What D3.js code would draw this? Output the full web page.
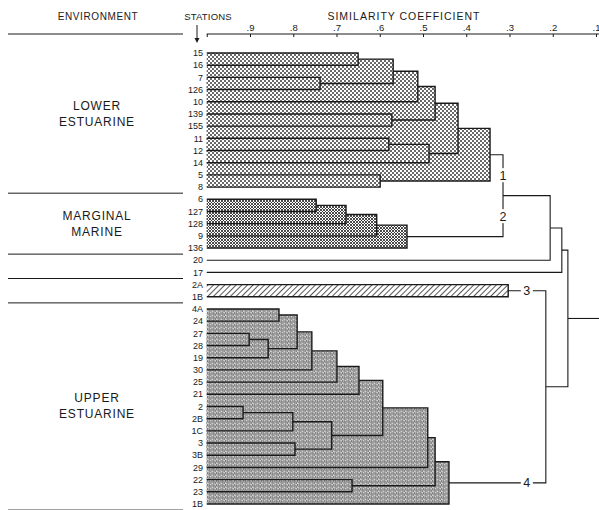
<!DOCTYPE html>
<html>
<head>
<meta charset="utf-8">
<script src="https://cdn.jsdelivr.net/npm/d3@7"></script>
<style>
body{margin:0;background:#fff}
text{font-family:"Liberation Sans",Arial,sans-serif;fill:#1a1a1a}
</style>
</head>
<body>
<script>
// station order, top to bottom
var stations=["15","16","7","126","10","139","155","11","12","14","5","8",
  "6","127","128","9","136","20","17","2A","1B",
  "4A","24","27","28","19","30","25","21","2","2B","1C","3","3B","29","22","23","1B"]

// [cluster name, upper member, lower member, similarity]; numbers are station rows
var merges=[
  ["L1",0,1,0.650],["L2",2,3,0.738],["L3","L1","L2",0.569],["L4","L3",4,0.512],
  ["L5",5,6,0.572],["L6","L4","L5",0.472],["L7",7,8,0.579],["L8","L7",9,0.486],
  ["L9","L6","L8",0.419],["L10",10,11,0.599],["G1","L9","L10",0.345],
  ["M1",12,13,0.747],["M2","M1",14,0.678],["M3","M2",15,0.607],["G2","M3",16,0.537],
  ["R1","G1","G2",0.315],["R2","R1",17,0.206],["R3","R2",18,0.179],
  ["G3",19,20,0.303],
  ["U1",21,22,0.833],["U2",23,24,0.902],["U3","U2",25,0.858],["U4","U1","U3",0.791],
  ["U5","U4",26,0.757],["U6","U5",27,0.699],["U7","U6",28,0.648],
  ["U8",29,30,0.916],["U9","U8",31,0.801],["U10",32,33,0.796],["U11","U9","U10",0.711],
  ["U12","U7","U11",0.593],["U13","U12",34,0.489],["U14",35,36,0.664],
  ["U15","U13","U14",0.472],["G4","U15",37,0.440],
  ["R4","G3","G4",0.216],["ROOT","R3","R4",0.165]
]

var groupNodes=["G1","G2","G3","G4"]
var groupLabels=["1","2","3","4"]

var environments=[["LOWER","ESTUARINE"],["MARGINAL","MARINE"],["UPPER","ESTUARINE"]]
var envRows=[[0,11],[12,16],[21,37]]
var envBreaks=[11,16,18,20,37]   // last row above each divider line

var axisTicks=[1,0.9,0.8,0.7,0.6,0.5,0.4,0.3,0.2,0.1]

var W=599,H=510
var svg=d3.select("body").append("svg").attr("width",W).attr("height",H)

var x=d3.scaleLinear().domain([1,0.1]).range([206.75,596])
var y=d3.scaleLinear().domain([0,stations.length-1]).range([53,504])
var rowGap=(y(1)-y(0))/2

// fill patterns
var defs=svg.append("defs")
var p1=defs.append("pattern").attr("id","dots").attr("patternUnits","userSpaceOnUse").attr("width",4).attr("height",4)
p1.append("rect").attr("width",4).attr("height",4).attr("fill","#fff")
p1.append("circle").attr("cx",1).attr("cy",1).attr("r",0.95).attr("fill","#2a2a2a")
p1.append("circle").attr("cx",3).attr("cy",3).attr("r",0.95).attr("fill","#2a2a2a")

var p2=defs.append("pattern").attr("id","weave").attr("patternUnits","userSpaceOnUse").attr("width",3).attr("height",3)
p2.append("rect").attr("width",3).attr("height",3).attr("fill","#fff")
p2.append("path").attr("d","M0,0L3,3M3,0L0,3").attr("stroke","#2a2a2a").attr("stroke-width",0.85)

var p3=defs.append("pattern").attr("id","hatch").attr("patternUnits","userSpaceOnUse").attr("width",4).attr("height",4)
  .attr("patternTransform","rotate(45)")
p3.append("rect").attr("width",4).attr("height",4).attr("fill","#fff")
p3.append("line").attr("x1",0).attr("y1",0).attr("x2",0).attr("y2",4).attr("stroke","#2a2a2a").attr("stroke-width",1.6)

var p4=defs.append("pattern").attr("id","rings").attr("patternUnits","userSpaceOnUse").attr("width",4.5).attr("height",4)
p4.append("rect").attr("width",4.5).attr("height",4).attr("fill","#cfcfcf")
p4.append("circle").attr("cx",1.2).attr("cy",1).attr("r",1.1).attr("fill","#fff").attr("stroke","#2a2a2a").attr("stroke-width",0.65)
p4.append("circle").attr("cx",3.45).attr("cy",3).attr("r",1.1).attr("fill","#fff").attr("stroke","#2a2a2a").attr("stroke-width",0.65)

var patterns=["dots","weave","hatch","rings"]

// build tree
var leaves=stations.map(function(s,i){return {leaf:true,x:x(1),y:y(i)}})
var nodes={}
var get=function(k){return typeof k=="number"?leaves[k]:nodes[k]}
var internal=merges.map(function(m){
  var a=get(m[1]),b=get(m[2])
  var n={name:m[0],a:a,b:b,x:x(m[3]),y:(a.y+b.y)/2}
  nodes[m[0]]=n
  return n
})
var setGroup=function(n,g){
  if(n.leaf) return
  n.group=g
  setGroup(n.a,g); setGroup(n.b,g)
}
groupNodes.forEach(function(g,i){setGroup(nodes[g],i)})

// shaded boxes
svg.append("g").selectAll("rect")
  .data(internal.filter(function(d){return d.group!=undefined}))
  .join("rect")
  .attr("x",x(1))
  .attr("y",function(d){return d.a.y})
  .attr("width",function(d){return d.x-x(1)})
  .attr("height",function(d){return d.b.y-d.a.y})
  .attr("fill",function(d){return "url(#"+patterns[d.group]+")"})

// links
svg.append("g").selectAll("path")
  .data(internal)
  .join("path")
  .attr("d",function(d){return "M"+d.a.x+","+d.a.y+"H"+d.x+"V"+d.b.y+"H"+d.b.x})
  .attr("fill","none")
  .attr("stroke","#1a1a1a")
  .attr("stroke-width",function(d){return d.group!=undefined?1.4:1.1})

var root=nodes["ROOT"]
svg.append("line").attr("x1",root.x).attr("x2",W).attr("y1",root.y).attr("y2",root.y)
  .attr("stroke","#1a1a1a").attr("stroke-width",1.1)

// cluster numbers
var labelPos=groupNodes.map(function(g,i){
  var n=nodes[g]
  var parent=internal.find(function(p){return p.a==n||p.b==n})
  if(i<2) return {x:parent.x,y:(n.y+parent.y)/2,t:groupLabels[i]}
  return {x:parent.x-19,y:n.y,t:groupLabels[i]}
})
var gl=svg.append("g")
gl.selectAll("rect").data(labelPos).join("rect")
  .attr("x",function(d){return d.x-6}).attr("y",function(d){return d.y-7})
  .attr("width",12).attr("height",14).attr("fill","#fff")
gl.selectAll("text").data(labelPos).join("text")
  .attr("x",function(d){return d.x}).attr("y",function(d){return d.y+4.5})
  .attr("text-anchor","middle").attr("font-size",12.5)
  .text(function(d){return d.t})

// station labels
svg.append("g").selectAll("text").data(stations).join("text")
  .attr("x",203).attr("y",function(d,i){return y(i)+3.2})
  .attr("text-anchor","end").attr("font-size",9)
  .text(function(d){return d})

// axis
var axis=d3.axisTop(x).tickValues(axisTicks)
  .tickFormat(function(d){return d==1?"":"."+Math.round(d*10)})
  .tickSizeInner(-3).tickSizeOuter(0).tickPadding(3)
var ag=svg.append("g").attr("transform","translate(0,34)").call(axis)
ag.select(".domain").remove()
ag.selectAll("line").attr("stroke","#1a1a1a")
ag.selectAll("text").attr("font-size",9.5).attr("font-family","Liberation Sans")
svg.append("line").attr("x1",x(1)).attr("x2",W).attr("y1",34).attr("y2",34).attr("stroke","#1a1a1a")

// headers
svg.append("text").attr("x",98).attr("y",20).attr("text-anchor","middle")
  .attr("font-size",10).attr("letter-spacing",0.6).text("ENVIRONMENT")
svg.append("text").attr("x",208).attr("y",20).attr("text-anchor","middle")
  .attr("font-size",9.5).attr("letter-spacing",0.2).text("STATIONS")
svg.append("text").attr("x",404).attr("y",20).attr("text-anchor","middle")
  .attr("font-size",10.5).attr("letter-spacing",1).text("SIMILARITY COEFFICIENT")
svg.append("line").attr("x1",197).attr("x2",197).attr("y1",25).attr("y2",39).attr("stroke","#1a1a1a")
svg.append("path").attr("d","M194.5,38L199.5,38L197,43Z").attr("fill","#1a1a1a")

// environment column
var lineYs=[34].concat(envBreaks.map(function(r){return y(r)+rowGap}))
svg.append("g").selectAll("line").data(lineYs).join("line")
  .attr("x1",8).attr("x2",183)
  .attr("y1",function(d){return d}).attr("y2",function(d){return d})
  .attr("stroke","#1a1a1a")

environments.forEach(function(e,i){
  var top=envRows[i][0]==0?34:y(envRows[i][0])-rowGap
  var bot=y(envRows[i][1])+rowGap
  var c=(top+bot)/2
  e.forEach(function(w,j){
    svg.append("text").attr("x",97).attr("y",c-8+j*16+4)
      .attr("text-anchor","middle").attr("font-size",12).attr("letter-spacing",0.8)
      .text(w)
  })
})
</script>
</body>
</html>
